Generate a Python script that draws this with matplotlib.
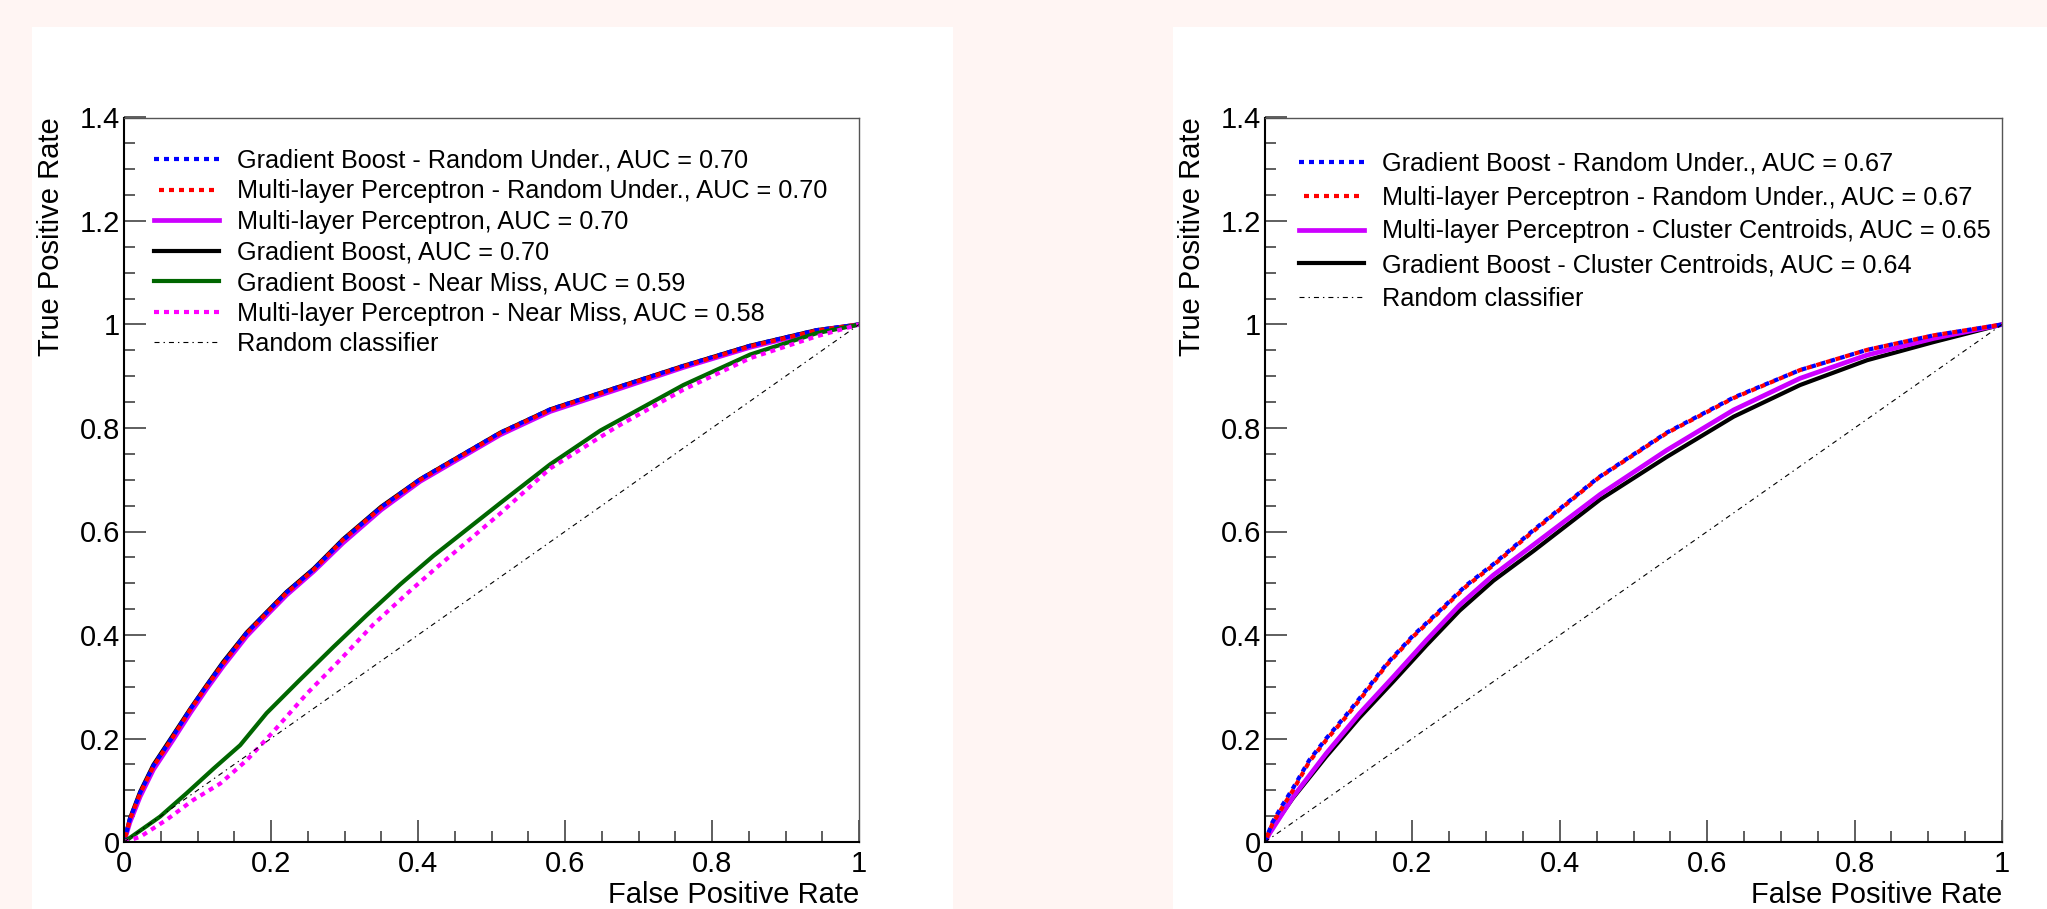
import matplotlib
matplotlib.use("Agg")
import matplotlib.pyplot as plt
from matplotlib.patches import Rectangle
from matplotlib.ticker import MultipleLocator, FuncFormatter

plt.rcParams['font.family'] = ['Liberation Sans', 'DejaVu Sans']
plt.rcParams['lines.scale_dashes'] = False

# ---- data (FPR / TPR) ----
# left panel, the four AUC = 0.70 curves
fpr_top_left = [0, 0.008, 0.022, 0.04, 0.067, 0.09, 0.112, 0.135, 0.167, 0.194, 0.221,
                0.258, 0.298, 0.35, 0.403, 0.512, 0.58, 0.67, 0.761, 0.852, 0.942, 1.0]
tpr_gb_ru_left = [0, 0.044, 0.095, 0.147, 0.205, 0.256, 0.301, 0.346, 0.404, 0.443, 0.482,
                  0.527, 0.583, 0.647, 0.701, 0.791, 0.836, 0.878, 0.920, 0.959, 0.989, 1.0]
tpr_mlp_ru_left = [0, 0.043, 0.094, 0.146, 0.204, 0.255, 0.300, 0.345, 0.403, 0.442, 0.481,
                   0.526, 0.584, 0.646, 0.700, 0.790, 0.835, 0.877, 0.919, 0.958, 0.988, 1.0]
tpr_mlp_left = [0, 0.038, 0.088, 0.140, 0.198, 0.249, 0.295, 0.340, 0.398, 0.438, 0.477,
                0.523, 0.578, 0.642, 0.697, 0.787, 0.832, 0.874, 0.917, 0.956, 0.987, 1.0]
tpr_gb_left = [0, 0.045, 0.097, 0.149, 0.207, 0.257, 0.302, 0.348, 0.405, 0.444, 0.483,
               0.528, 0.585, 0.648, 0.701, 0.791, 0.836, 0.878, 0.920, 0.959, 0.989, 1.0]

# left panel, near miss curves
fpr_gb_nm = [0, 0.017, 0.049, 0.085, 0.122, 0.158, 0.194, 0.239, 0.285, 0.33, 0.376,
             0.421, 0.512, 0.58, 0.648, 0.761, 0.852, 0.942, 1.0]
tpr_gb_nm = [0, 0.017, 0.049, 0.094, 0.142, 0.187, 0.249, 0.313, 0.377, 0.438, 0.498,
             0.553, 0.655, 0.730, 0.795, 0.883, 0.942, 0.983, 1.0]
fpr_mlp_nm = [0, 0.022, 0.058, 0.094, 0.131, 0.167, 0.203, 0.249, 0.294, 0.339, 0.385,
              0.421, 0.512, 0.58, 0.67, 0.761, 0.852, 0.942, 1.0]
tpr_mlp_nm = [0, 0.010, 0.043, 0.081, 0.113, 0.158, 0.213, 0.287, 0.352, 0.420, 0.480,
              0.525, 0.635, 0.722, 0.802, 0.874, 0.935, 0.977, 1.0]

# right panel
fpr_ru_right = [0, 0.01, 0.024, 0.038, 0.06, 0.083, 0.11, 0.137, 0.165, 0.201, 0.237,
                0.273, 0.31, 0.362, 0.452, 0.545, 0.636, 0.726, 0.817, 0.907, 1.0]
tpr_gb_ru_right = [0, 0.038, 0.072, 0.104, 0.158, 0.200, 0.245, 0.293, 0.344, 0.399, 0.447,
                   0.496, 0.537, 0.600, 0.704, 0.791, 0.859, 0.912, 0.951, 0.979, 1.0]
tpr_mlp_ru_right = [0, 0.035, 0.068, 0.100, 0.155, 0.197, 0.242, 0.290, 0.342, 0.397, 0.445,
                    0.494, 0.535, 0.598, 0.703, 0.790, 0.858, 0.912, 0.951, 0.979, 1.0]
fpr_cc_right = [0, 0.006, 0.038, 0.083, 0.128, 0.174, 0.219, 0.264, 0.31, 0.364, 0.455,
                0.545, 0.636, 0.726, 0.817, 0.907, 1.0]
tpr_mlp_cc = [0, 0.016, 0.087, 0.171, 0.248, 0.319, 0.390, 0.458, 0.516, 0.574, 0.672,
              0.757, 0.835, 0.896, 0.941, 0.973, 1.0]
tpr_gb_cc = [0, 0.020, 0.085, 0.165, 0.240, 0.310, 0.380, 0.447, 0.505, 0.562, 0.662,
             0.744, 0.822, 0.883, 0.931, 0.966, 1.0]

diag = [0, 1]

labels_left = ["Gradient Boost - Random Under., AUC = 0.70",
               "Multi-layer Perceptron - Random Under., AUC = 0.70",
               "Multi-layer Perceptron, AUC = 0.70",
               "Gradient Boost, AUC = 0.70",
               "Gradient Boost - Near Miss, AUC = 0.59",
               "Multi-layer Perceptron - Near Miss, AUC = 0.58",
               "Random classifier"]
labels_right = ["Gradient Boost - Random Under., AUC = 0.67",
                "Multi-layer Perceptron - Random Under., AUC = 0.67",
                "Multi-layer Perceptron - Cluster Centroids, AUC = 0.65",
                "Gradient Boost - Cluster Centroids, AUC = 0.64",
                "Random classifier"]

BLUE = '#0000ff'
RED = '#ff0000'
VIOLET = '#cc00ff'
MAGENTA = '#ff00ff'
GREEN = '#006600'
DOT = (0, (3.6, 3.6))
DOT_SHIFT = (3.6, (3.6, 3.6))
DASHDOT = (0, (3.6, 2.9, 1.0, 2.9))

W, H = 2047, 909
fig = plt.figure(figsize=(W / 100, H / 100), dpi=100, facecolor='#fff5f3')

# white pads behind each plot
for x0, x1 in [(32, 953), (1173, 2047)]:
    fig.patches.append(Rectangle((x0 / W, 0), (x1 - x0) / W, (H - 27) / H,
                                 transform=fig.transFigure, facecolor='white',
                                 edgecolor='none', zorder=-10))


def style_axes(ax):
    ax.set_xlim(0, 1)
    ax.set_ylim(0, 1.4)
    ax.xaxis.set_major_locator(MultipleLocator(0.2))
    ax.xaxis.set_minor_locator(MultipleLocator(0.05))
    ax.yaxis.set_major_locator(MultipleLocator(0.2))
    ax.yaxis.set_minor_locator(MultipleLocator(0.05))
    fmt = FuncFormatter(lambda v, p: '%g' % round(v, 2))
    ax.xaxis.set_major_formatter(fmt)
    ax.yaxis.set_major_formatter(fmt)
    ax.tick_params(which='both', direction='in', top=False, right=False,
                   color='#333333', width=1.1, labelsize=21)
    ax.tick_params(which='major', length=15.8)
    ax.tick_params(which='minor', length=7.9)
    ax.tick_params(axis='x', which='major', pad=6)
    ax.tick_params(axis='y', which='major', pad=3)
    for s in ['left', 'bottom']:
        ax.spines[s].set_linewidth(1.5)
        ax.spines[s].set_color('black')
    for s in ['top', 'right']:
        ax.spines[s].set_linewidth(1.0)
        ax.spines[s].set_color('#555555')
    ax.set_facecolor('white')
    ax.text(1.0, -0.0842, "False Positive Rate", transform=ax.transAxes,
            ha='right', va='baseline', fontsize=21)
    ax.text(-0.099, 1.0, "True Positive Rate", transform=ax.transAxes,
            rotation=90, ha='center', va='top', fontsize=21)


def add_legend(ax, handles, labels, y_top, x_left, spacing):
    ax.legend(handles, labels, loc='upper left', bbox_to_anchor=(x_left, y_top),
              frameon=False, fontsize=18.2, handlelength=2.57, handletextpad=0.71,
              labelspacing=spacing, borderpad=0, borderaxespad=0)


# ---- left panel ----
axL = fig.add_axes([124 / W, 1 - 842 / H, 735 / W, 724.5 / H])
style_axes(axL)
h_gb, = axL.plot(fpr_top_left, tpr_gb_left, color='black', lw=3)
h_mlp, = axL.plot(fpr_top_left, tpr_mlp_left, color=VIOLET, lw=3.4)
h_gbru, = axL.plot(fpr_top_left, tpr_gb_ru_left, color=BLUE, lw=3, ls=DOT)
h_mlpru, = axL.plot(fpr_top_left, tpr_mlp_ru_left, color=RED, lw=3, ls=DOT_SHIFT)
h_gbnm, = axL.plot(fpr_gb_nm, tpr_gb_nm, color=GREEN, lw=3)
h_mlpnm, = axL.plot(fpr_mlp_nm, tpr_mlp_nm, color=MAGENTA, lw=3, ls=DOT)
h_rand, = axL.plot(diag, diag, color='black', lw=0.8, ls=DASHDOT)
add_legend(axL, [h_gbru, h_mlpru, h_mlp, h_gb, h_gbnm, h_mlpnm, h_rand], labels_left,
           0.9568, 0.0408, 0.26)

# ---- right panel ----
axR = fig.add_axes([1265 / W, 1 - 842 / H, 737 / W, 724.5 / H])
style_axes(axR)
r_gb, = axR.plot(fpr_cc_right, tpr_gb_cc, color='black', lw=3)
r_mlp, = axR.plot(fpr_cc_right, tpr_mlp_cc, color=VIOLET, lw=3.4)
r_gbru, = axR.plot(fpr_ru_right, tpr_gb_ru_right, color=BLUE, lw=3, ls=DOT)
r_mlpru, = axR.plot(fpr_ru_right, tpr_mlp_ru_right, color=RED, lw=3, ls=DOT_SHIFT)
r_rand, = axR.plot(diag, diag, color='black', lw=0.8, ls=DASHDOT)
add_legend(axR, [r_gbru, r_mlpru, r_mlp, r_gb, r_rand], labels_right,
           0.9527, 0.0461, 0.39)

fig.savefig("out.png", dpi=100, facecolor=fig.get_facecolor())
